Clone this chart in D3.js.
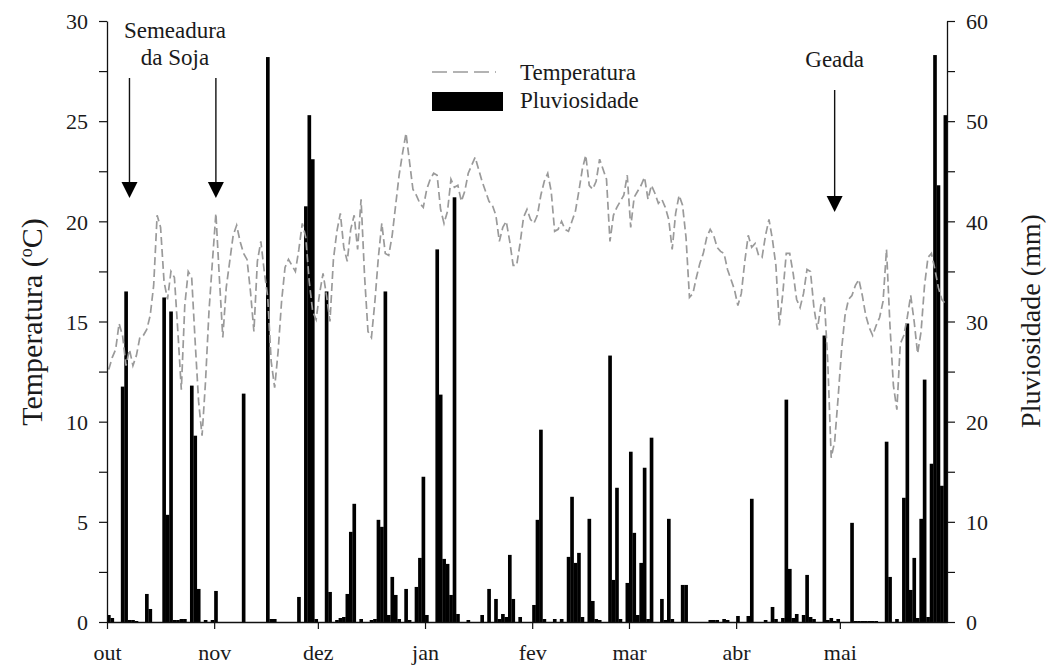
<!DOCTYPE html>
<html><head><meta charset="utf-8">
<script src="https://cdn.jsdelivr.net/npm/d3@7"></script>
<style>body{margin:0;background:#fff}svg text{font-family:"Liberation Serif","DejaVu Serif",serif;fill:#1a1a1a}</style>
</head><body>
<svg id="c" width="1048" height="667"></svg>
<script>
// ---------- data ----------
const monthLabels = ["out","nov","dez","jan","fev","mar","abr","mai"];
const tempTicks = [0,5,10,15,20,25,30];
const rainTicks = [0,10,20,30,40,50,60];
// daily mean temperature (°C), day 0 = 1 Oct
const temperature = [
12.6,13.2,13.6,14.9,14.3,12.8,13.6,12.8,13.3,14.2,
14.3,14.6,15.3,16.8,20.3,19.7,17.0,16.1,17.5,17.2,
14.5,11.6,15.8,17.5,17.2,14.0,11.0,9.3,12.0,15.5,
18.0,20.4,17.2,14.2,16.7,18.0,19.3,19.8,19.0,18.4,
18.1,16.5,14.5,18.0,19.0,17.5,16.2,13.0,11.7,13.5,
16.0,17.7,18.1,17.8,17.5,18.6,19.9,19.2,17.0,15.5,
15.1,16.4,17.4,16.3,15.0,18.1,19.5,20.4,18.7,18.0,
19.6,20.3,18.6,21.1,17.3,14.5,14.2,16.0,18.2,19.9,
18.4,18.3,19.3,20.8,22.3,23.4,24.4,23.0,21.6,21.3,
20.9,20.7,21.6,22.1,22.4,22.3,20.6,19.9,20.5,22.1,
21.7,21.8,21.0,21.5,22.4,22.8,23.2,22.6,22.0,21.5,
21.0,20.8,20.3,19.0,19.7,20.0,19.0,17.8,17.8,18.9,
20.2,20.6,20.1,19.9,20.3,21.3,22.0,22.4,21.5,19.5,
19.6,20.0,19.6,19.5,20.0,20.5,21.5,22.6,23.3,21.8,
21.6,22.0,23.1,22.6,22.1,19.0,20.3,20.7,21.0,21.3,
22.3,19.7,21.2,21.5,21.8,22.2,21.1,21.8,21.4,20.9,
21.1,20.7,20.1,18.6,20.4,21.3,20.8,19.2,16.2,16.4,
17.2,17.9,18.4,19.2,19.6,19.3,18.7,18.5,18.4,17.6,
17.1,16.6,15.8,16.4,18.0,19.3,18.7,18.9,18.3,18.2,
19.3,20.1,19.1,17.8,14.8,16.4,18.4,18.4,17.4,16.1,
15.7,16.4,17.6,17.5,15.7,14.6,15.8,16.2,13.0,8.2,
9.0,11.2,13.6,15.3,16.1,16.3,16.8,17.1,16.3,15.3,
14.7,14.3,14.8,15.2,16.0,18.6,14.8,11.8,10.6,13.9,
14.3,15.2,16.3,15.0,13.4,14.5,16.8,18.2,18.4,17.6,
16.7,16.1,15.9];
// rain days (day index from 1 Oct) and amounts (mm)
const rainDay = [0,1,4,5,6,7,8,11,12,16,17,18,19,20,21,22,24,25,26,28,30,31,39,46,47,48,55,57,58,59,60,63,64,66,67,68,69,70,71,73,76,77,78,79,80,81,82,83,84,86,87,89,90,91,92,95,96,97,98,99,100,101,104,108,110,112,113,114,115,116,117,119,123,124,125,126,129,131,133,134,135,136,137,139,140,141,142,145,146,147,148,150,151,152,153,154,155,156,157,160,161,162,163,166,167,174,175,176,178,179,182,185,186,190,192,193,195,196,197,198,199,201,202,203,204,207,208,209,210,211,215,216,217,218,219,220,221,222,225,226,228,230,231,232,233,234,235,236,237,238,239,240,241,242];
const rainMm  = [0.7,0.4,23.5,33.0,0.2,0.2,0.1,2.8,1.3,32.4,10.7,31.0,0.2,0.2,0.3,0.3,23.6,18.6,3.3,0.2,0.2,3.1,22.8,56.4,0.3,0.3,2.5,41.5,50.6,46.2,0.3,33.0,3.0,0.2,0.4,0.5,2.8,9.0,11.8,0.3,0.2,0.3,10.2,9.5,33.0,0.7,4.5,2.7,0.3,3.3,0.2,3.5,6.4,14.5,0.7,37.2,22.7,6.3,5.8,2.7,42.4,0.8,0.2,0.7,3.3,2.3,0.3,0.8,0.5,6.7,2.3,0.5,1.7,10.2,19.2,0.3,0.3,0.3,6.5,12.5,5.9,6.9,0.5,10.3,2.1,0.3,0.2,26.6,4.2,13.4,0.3,3.9,17.0,8.9,0.7,5.9,15.4,0.3,18.4,2.3,0.2,10.3,0.3,3.7,3.7,0.2,0.2,0.2,0.3,0.2,0.6,0.6,12.3,0.2,1.5,0.3,0.4,22.2,5.3,0.4,0.8,0.7,4.7,0.5,0.3,28.6,0.2,0.4,0.1,0.3,9.9,0.1,0.1,0.1,0.1,0.1,0.1,0.1,18.0,4.5,0.3,12.4,29.8,3.2,6.4,0.4,10.3,24.2,0.5,15.8,56.6,43.6,13.6,50.6];
const annotations = [
  {lines:["Semeadura","da Soja"], days:[6,31]},
  {lines:["Geada"], days:[210]}
];
const legendItems = ["Temperatura","Pluviosidade"];

// ---------- scales ----------
const svg = d3.select("#c");
const start = new Date(2010,9,1), end = new Date(2011,5,1);
const x = d3.scaleTime().domain([start,end]).range([107,947]);
const yT = d3.scaleLinear().domain([0,30]).range([622,21]);
const yR = d3.scaleLinear().domain([0,60]).range([622,21]);
const day = d => d3.timeDay.offset(start,d);
const noon = d => d3.timeHour.offset(day(d),12);

// ---------- bars ----------
const rain = rainDay.map((d,i)=>({d, v:rainMm[i]}));
svg.append("g").selectAll("rect").data(rain).join("rect")
  .attr("x", r => x(day(r.d)))
  .attr("width", r => x(day(r.d+1))-x(day(r.d))+0.2)
  .attr("y", r => yR(r.v))
  .attr("height", r => yR(0)-yR(r.v))
  .attr("fill","#000");

// ---------- temperature line ----------
const line = d3.line().x((v,i)=>x(noon(i))).y(v=>yT(v));
svg.append("path").datum(temperature).attr("d",line)
  .attr("fill","none").attr("stroke","#9a9a9a").attr("stroke-width",1.7)
  .attr("stroke-dasharray","8,4");

// ---------- axes ----------
const fs = 22;
const minorT = d3.range(0,30.01,2.5);
const axL = svg.append("g").attr("transform","translate(107,0)")
  .call(d3.axisLeft(yT).tickValues(minorT).tickSize(8).tickSizeOuter(0).tickPadding(11)
  .tickFormat(v => tempTicks.includes(v) ? v : ""));
const minorR = d3.range(0,60.01,5);
const axR = svg.append("g").attr("transform","translate(947,0)")
  .call(d3.axisRight(yR).tickValues(minorR).tickSize(8).tickSizeOuter(0).tickPadding(11)
  .tickFormat(v => rainTicks.includes(v) ? v : ""));
const monthTicks = d3.timeMonth.range(start, end);
const axB = svg.append("g").attr("transform","translate(0,622)")
  .call(d3.axisBottom(x).tickValues(monthTicks).tickSize(7).tickSizeOuter(0).tickPadding(15)
  .tickFormat((d,i)=>monthLabels[i]));
[axL,axR,axB].forEach(a=>{
  a.selectAll("path.domain").attr("stroke","#111").attr("stroke-width",1.3);
  a.selectAll(".tick line").attr("stroke","#111").attr("stroke-width",1.2);
  a.selectAll("text").attr("font-size",fs).attr("font-family","Liberation Serif").attr("fill","#1a1a1a");
});
axL.selectAll("text").attr("dy","0.35em");
axR.selectAll("text").attr("dy","0.35em");

// ---------- axis titles ----------
const tl = svg.append("text").attr("transform","translate(42,322) rotate(-90)")
  .attr("text-anchor","middle").attr("font-size",30);
tl.append("tspan").text("Temperatura (");
tl.append("tspan").attr("baseline-shift","super").attr("font-size",18).text("o");
tl.append("tspan").text("C)");
svg.append("text").attr("transform","translate(1040,321) rotate(-90)")
  .attr("text-anchor","middle").attr("font-size",28).text("Pluviosidade (mm)");

// ---------- legend ----------
svg.append("line").attr("x1",432).attr("x2",496).attr("y1",72).attr("y2",72)
  .attr("stroke","#9a9a9a").attr("stroke-width",1.7).attr("stroke-dasharray","15,6");
svg.append("rect").attr("x",432).attr("y",92).attr("width",71).attr("height",19).attr("fill","#000");
svg.selectAll("text.leg").data(legendItems).join("text").attr("class","leg")
  .attr("x",520).attr("y",(d,i)=>80+i*28).attr("font-size",23).text(d=>d);

// ---------- annotations ----------
const ann = svg.append("g");
annotations.forEach(a=>{
  const cx = d3.mean(a.days, d=>x(noon(d)));
  a.lines.forEach((t,i)=>{
    ann.append("text").attr("x", a.lines.length>1 ? 175 : cx).attr("y", (a.lines.length>1?38:67)+i*27)
      .attr("text-anchor","middle").attr("font-size",23).text(t);
  });
  const top = a.lines.length>1 ? 78 : 90;
  const tip = a.lines.length>1 ? 198 : 212;
  a.days.forEach(d=>{
    const ax = x(noon(d));
    ann.append("line").attr("x1",ax).attr("x2",ax).attr("y1",top).attr("y2",tip-12)
      .attr("stroke","#111").attr("stroke-width",1.4);
    ann.append("path").attr("d",`M${ax-8},${tip-16}L${ax+8},${tip-16}L${ax},${tip}Z`).attr("fill","#000");
  });
});
</script>
</body></html>
